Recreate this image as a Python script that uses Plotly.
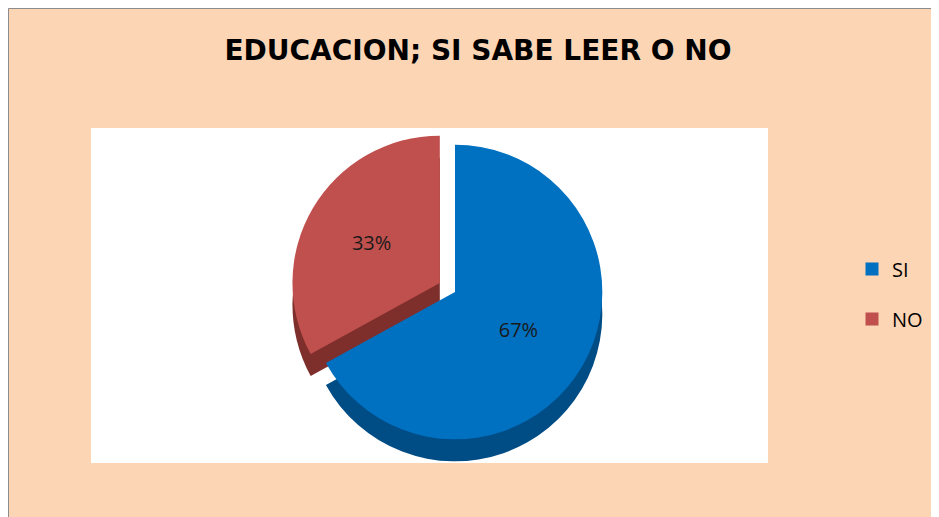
import plotly.graph_objects as go

categories = ["SI", "NO"]
values = [67, 33]
colors = ["#0070C0", "#C0504D"]
side_colors = ["#004C85", "#7E2F2C"]
title_text = "EDUCACION; SI SABE LEER O NO"

# the page puts the figure 8px in from the top-left corner
OFF = 8
W, H = 939 - OFF, 517 - OFF
PEACH = "#FCD5B5"


def px(x):
    return (x - OFF) / W


def py(y):
    return 1 - (y - OFF) / H


cx, cy, half = 455, 292, 165
depth = 22

fig = go.Figure()
# depth (side) layer
fig.add_trace(go.Pie(
    labels=categories, values=values, sort=False, direction="clockwise",
    rotation=0, pull=[0, 0.12],
    marker=dict(colors=side_colors, line=dict(width=0)),
    textinfo="none", showlegend=False, hoverinfo="skip",
    domain=dict(x=[px(cx - half), px(cx + half)], y=[py(cy + half + depth), py(cy - half + depth)]),
))
# top layer
fig.add_trace(go.Pie(
    labels=categories, values=values, sort=False, direction="clockwise",
    rotation=0, pull=[0, 0.12],
    marker=dict(colors=colors, line=dict(width=0)),
    texttemplate="%{percent:.0%}", textposition="inside", insidetextorientation="horizontal",
    textfont=dict(family="Open Sans, Liberation Sans, sans-serif", size=20, color="#1a1a1a"),
    showlegend=False, hoverinfo="label+percent",
    domain=dict(x=[px(cx - half), px(cx + half)], y=[py(cy + half), py(cy - half)]),
))
# legend entries
for c, col in zip(categories, colors):
    fig.add_trace(go.Scatter(
        x=[None], y=[None], mode="markers", name=c, legendgroup=c,
        marker=dict(symbol="square", size=13, color=col),
    ))

fig.update_layout(
    width=W, height=H,
    margin=dict(l=0, r=0, t=0, b=0),
    paper_bgcolor=PEACH, plot_bgcolor="rgba(0,0,0,0)",
    xaxis=dict(visible=False), yaxis=dict(visible=False),
    title=dict(text="<b>" + title_text + "</b>", x=px(478), xanchor="center",
               y=py(50), yanchor="middle",
               font=dict(family="DejaVu Sans, Liberation Sans, sans-serif", size=28, color="black")),
    legend=dict(x=px(852), xanchor="left", y=py(294), yanchor="middle",
                bgcolor="rgba(0,0,0,0)", tracegroupgap=21,
                font=dict(family="Open Sans, Liberation Sans, sans-serif", size=20, color="black"),
                itemwidth=30),
    shapes=[
        dict(type="rect", xref="paper", yref="paper", layer="below",
             x0=0.5 / W, x1=1.01, y0=-0.01, y1=1 - 0.5 / H,
             fillcolor=PEACH, line=dict(color="#8c8c8c", width=1)),
        dict(type="rect", xref="paper", yref="paper", layer="below",
             x0=px(91), x1=px(768), y0=py(463), y1=py(128),
             fillcolor="white", line=dict(width=0)),
    ],
)
fig.write_html("out.html")
